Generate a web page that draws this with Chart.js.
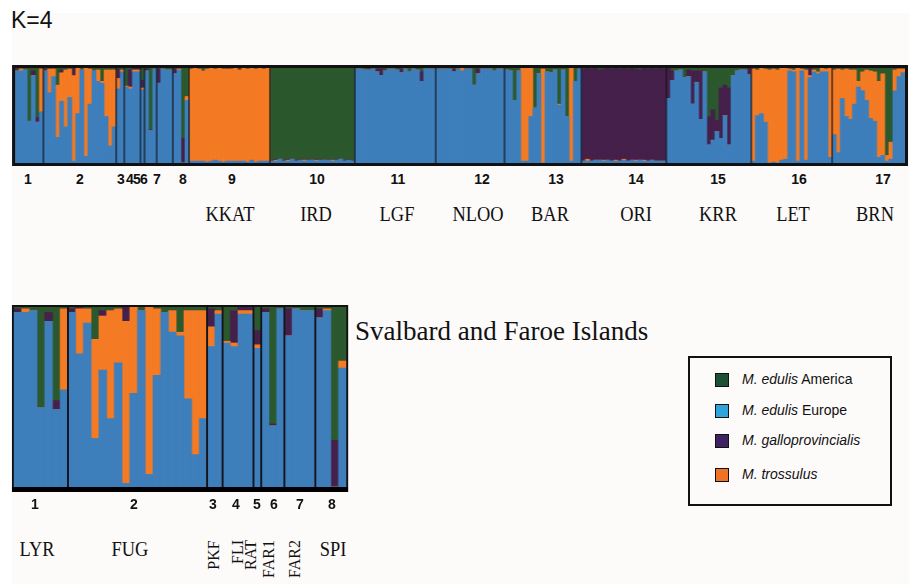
<!DOCTYPE html>
<html>
<head>
<meta charset="utf-8"/>
<script src="https://cdn.jsdelivr.net/npm/chart.js@4/dist/chart.umd.min.js"></script>
<style>
  body { margin: 0; width: 909px; height: 584px; position: relative; overflow: hidden; background: #fff;
         font-family: "Liberation Sans", Arial, sans-serif; }
  #bg { position: absolute; left: 12px; top: 13px; width: 897px; height: 571px; background: #fdfafa; }
  canvas { position: absolute; }
  .t { position: absolute; white-space: nowrap; color: #111; }
  .num { font-weight: bold; font-size: 14px; transform: translate(-50%, -50%); }
  .name { font-family: "Liberation Serif", "Times New Roman", serif; font-size: 20px; transform: translate(-50%, -50%) scaleX(0.92); }
  .rot { font-family: "Liberation Serif", "Times New Roman", serif; font-size: 16px; transform: translate(-50%, -50%) rotate(-90deg); }
  #legend { position: absolute; left: 688px; top: 356px; width: 204px; height: 150px; border: 2px solid #111; box-sizing: border-box; }
  .sw { position: absolute; left: 25px; width: 12px; height: 12px; border: 1.5px solid #111; }
  .lt { position: absolute; font-size: 14px; color: #111; }
</style>
</head>
<body>
<div id="bg"></div>
<div class="t" style="left:11px; top:7px; font-size:23px;">K=4</div>
<!-- canvases are drawn with whole-pixel bar widths, then stretched slightly by CSS -->
<canvas id="top" width="890" height="107" style="left:9px; top:62px; width:900px; height:107px;"></canvas>
<canvas id="bottom" width="357" height="200" style="left:8px; top:300px; width:345px; height:200px;"></canvas>
<div class="t" style="left:355px; top:316px; font-family:'Liberation Serif',serif; font-size:27px;">Svalbard and Faroe Islands</div>
<div id="legend"></div>
<div id="labels"></div>
<script>
// component order: M. edulis America (green), M. galloprovincialis (purple), M. trossulus (orange), M. edulis Europe (blue)

// Svalbard and Faroe Islands, populations 1-8 (43 individuals, %)
var svGreen  = [1,1,2,56,3,52,1,
                1,0,1,18,2,2,1,0,0,2,0,1,3,2,14,2,2,2,
                1,2, 19,2,0,0, 13, 1,65,1, 1,1,2,2, 1,1,74,30];
var svPurple = [2,0,0,0,5,5,0,
                2,1,0,0,3,0,0,8,0,0,0,0,0,0,0,0,0,0,
                10,0, 0,18,2,2, 8, 2,1,0, 15,0,0,0, 5,0,26,0];
var svOrange = [0,2,0,0,0,0,45,
                0,25,8,55,30,60,30,90,48,0,93,37,0,12,2,49,80,60,
                11,2, 1,2,2,2, 2, 0,0,0, 0,0,0,0, 0,1,0,4];
var svBlue   = [97,97,98,44,92,43,54,
                97,74,91,27,65,38,69,2,52,98,7,62,97,86,84,49,18,38,
                78,96, 80,78,96,96, 77, 97,34,99, 84,99,98,98, 94,98,0,66];

// populations 9-17 (177 individuals, %)
var mlGreen = [
  1,0,1,3,1,0,1,0,1,0,1,0,1,0,1,0,1,0,1,0,
  97,96,96,97,96,96,97,96,97,96,97,96,96,97,96,97,96,96,97,96,97,
  1,1,2,1,1,1,1,2,1,1,1,1,1,4,1,1,4,1,1,1,
  1,1,1,1,1,1,0,1,1,18,1,1,1,1,3,1,1,
  2,3,34,3,0,0,0,42,6,1,4,5,2,38,2,51,0,14,1,
  1,0,1,0,2,1,0,1,0,1,0,1,0,1,2,0,1,0,1,0,1,
  0,3,3,2,10,2,3,3,3,4,51,44,55,21,18,21,8,3,2,2,0,
  1,2,0,1,2,1,2,0,0,1,2,0,1,2,0,2,4,0,1,0,
  2,1,2,1,2,2,14,4,2,3,4,14,6,92,78,2,1,1];
var mlPurple = [
  0,0,0,0,0,0,0,0,0,1,0,0,1,0,0,0,0,0,0,0,
  1,1,0,1,1,0,1,1,0,1,0,1,1,0,1,0,1,0,1,1,1,
  0,0,0,1,0,3,7,1,0,0,1,4,0,0,0,1,10,0,0,0,
  0,0,0,0,3,0,0,0,0,0,5,0,0,0,0,0,0,
  0,0,0,0,0,0,0,0,0,0,0,0,0,0,0,0,0,0,0,
  97,96,97,97,95,96,97,97,97,97,96,97,97,96,95,97,97,97,97,98,97,
  32,10,0,0,0,7,35,12,51,0,30,32,12,53,32,60,0,0,0,0,7,
  0,0,0,0,0,0,0,0,0,0,0,0,0,0,8,0,0,0,0,0,
  0,0,0,0,0,0,0,0,0,0,0,0,0,0,0,0,0,0];
var mlOrange = [
  97,98,97,95,98,98,96,98,98,97,97,98,96,98,98,97,98,98,97,98,
  0,1,0,0,1,0,0,0,1,0,0,1,0,0,0,1,0,0,0,0,0,
  0,0,0,0,0,0,0,0,0,0,0,0,0,0,0,0,0,0,0,0,
  0,0,0,0,0,0,3,0,0,0,0,0,0,0,0,0,0,
  0,0,0,0,98,98,51,0,0,99,0,0,0,1,0,0,98,0,0,
  0,2,0,0,0,1,0,0,1,0,1,0,0,1,0,1,0,0,0,0,0,
  0,0,0,0,0,0,0,0,0,0,0,0,0,0,0,0,0,0,0,0,0,
  97,48,48,56,98,98,98,97,96,2,2,98,2,95,2,2,2,4,3,94,
  68,88,30,50,52,36,6,20,32,50,52,80,86,6,18,22,8,4];
var mlBlue = [
  2,2,2,2,1,2,3,2,1,2,2,2,2,2,1,3,1,2,2,2,
  2,2,4,2,2,4,2,3,2,3,3,2,3,3,3,2,3,4,2,3,2,
  99,99,98,98,99,96,92,97,99,99,98,95,99,96,99,98,86,99,99,99,
  99,99,99,99,96,99,97,99,99,82,94,99,99,99,97,99,99,
  98,97,66,97,2,2,49,58,94,0,96,95,98,61,98,49,2,86,99,
  2,2,2,3,3,2,3,2,2,2,3,2,3,2,3,2,2,3,2,2,2,
  68,87,97,98,90,91,62,85,46,96,19,24,33,26,50,19,92,97,98,98,93,
  2,50,52,43,0,1,0,3,4,97,96,2,97,3,90,96,94,96,96,6,
  30,11,68,49,46,62,80,76,66,47,44,6,8,2,4,76,91,95];

var svSizes = [7, 18, 2, 4, 1, 3, 4, 4];
var mlSizes = [20, 21, 20, 17, 19, 21, 21, 20, 18];
var topNumbers = ['1','2','3','4','5','6','7','8','9','10','11','12','13','14','15','16','17'];
var topNames = ['KKAT','IRD','LGF','NLOO','BAR','ORI','KRR','LET','BRN'];
var svNumbers = ['1','2','3','4','5','6','7','8'];
var svNames = ['LYR','FUG','PKF','FLI','RAT','FAR1','FAR2','SPI'];

var legendItems = [
  { it: 'M. edulis', rest: ' America', color: '#1b5236' },
  { it: 'M. edulis', rest: ' Europe', color: '#2ea3dc' },
  { it: 'M. galloprovincialis', rest: '', color: '#3e2262' },
  { it: 'M. trossulus', rest: '', color: '#f07226' }
];

var colors = { green: '#2b592d', purple: '#45204a', orange: '#f47a24', blue: '#3d7ebb' };

var framePlugin = {
  id: 'frame',
  afterDatasetsDraw: function(chart, args, opts) {
    var ctx = chart.ctx, a = chart.chartArea, x = chart.scales.x;
    ctx.save();
    ctx.strokeStyle = '#15151f';
    ctx.lineWidth = opts.sep;
    var n = 0;
    for (var i = 0; i < opts.sizes.length - 1; i++) {
      n += opts.sizes[i];
      var px = (x.getPixelForValue(n - 1) + x.getPixelForValue(n)) / 2;
      ctx.beginPath(); ctx.moveTo(px, a.top); ctx.lineTo(px, a.bottom); ctx.stroke();
    }
    ctx.strokeStyle = '#111';
    ctx.lineWidth = opts.border;
    var b = opts.border / 2;
    ctx.strokeRect(a.left - b, a.top - b, a.right - a.left + 2 * b, a.bottom - a.top + 2 * b);
    if (opts.base) {
      ctx.fillStyle = '#000';
      ctx.fillRect(a.left - opts.border, a.bottom, a.right - a.left + 2 * opts.border, opts.base);
    }
    ctx.restore();
  }
};

function structurePlot(id, green, purple, orange, blue, sizes, pad, frame) {
  var labels = blue.map(function(v, i) { return i + 1; });
  var ds = function(data, c) {
    return { data: data, backgroundColor: c, borderWidth: 0, barPercentage: 1, categoryPercentage: 1 };
  };
  new Chart(document.getElementById(id), {
    type: 'bar',
    data: {
      labels: labels,
      datasets: [ds(blue, colors.blue), ds(orange, colors.orange), ds(purple, colors.purple), ds(green, colors.green)]
    },
    options: {
      responsive: false,
      animation: false,
      devicePixelRatio: 1,
      layout: { padding: pad },
      scales: {
        x: { stacked: true, display: false },
        y: { stacked: true, display: false, min: 0, max: 100 }
      },
      plugins: {
        legend: { display: false },
        tooltip: { enabled: false },
        frame: { sizes: sizes, sep: frame.sep, border: frame.border, base: frame.base }
      }
    },
    plugins: [framePlugin]
  });
}

// top: 220 bars x 4 px = 880 px plot area; bottom: 43 bars x 8 px = 344 px plot area
structurePlot('top', svGreen.concat(mlGreen), svPurple.concat(mlPurple), svOrange.concat(mlOrange),
  svBlue.concat(mlBlue), svSizes.concat(mlSizes),
  { left: 6, right: 4, top: 6, bottom: 6 }, { sep: 1.2, border: 3, base: 0 });
structurePlot('bottom', svGreen, svPurple, svOrange, svBlue, svSizes,
  { left: 6, right: 7, top: 7, bottom: 13 }, { sep: 2, border: 2, base: 5 });

// text labels
var box = document.getElementById('labels');
function addText(cls, txt, x, y) {
  var d = document.createElement('div');
  d.className = 't ' + cls;
  d.textContent = txt;
  d.style.left = x + 'px';
  d.style.top = y + 'px';
  box.appendChild(d);
  return d;
}
var topNumX = [28, 80, 121, 130, 137, 144, 157, 183, 232, 317, 398, 482, 556, 636, 718, 799, 883];
topNumbers.forEach(function(t, i) { addText('num', t, topNumX[i], 179); });
var topNameX = [230, 316, 397, 478, 550, 636, 718, 793, 875];
topNames.forEach(function(t, i) { addText('name', t, topNameX[i], 214); });
var svNumX = [35, 134, 213, 236, 257, 274, 300, 332];
svNumbers.forEach(function(t, i) { addText('num', t, svNumX[i], 504); });
var svNameX = [37, 130, 214, 238, 251, 269, 295, 333];
svNames.forEach(function(t, i) {
  var rotated = i >= 2 && i <= 6;
  var d = addText(rotated ? 'rot' : 'name', t, svNameX[i], 549);
  if (rotated) d.style.top = (540 + d.offsetWidth / 2) + 'px';
});

var lg = document.getElementById('legend');
var rowY = [22, 53, 83, 117];
legendItems.forEach(function(item, i) {
  var s = document.createElement('div');
  s.className = 'sw';
  s.style.top = (rowY[i] - 7) + 'px';
  s.style.background = item.color;
  lg.appendChild(s);
  var t = document.createElement('div');
  t.className = 'lt';
  t.style.left = '52px';
  t.style.top = (rowY[i] - 9) + 'px';
  t.innerHTML = '<i>' + item.it + '</i>' + item.rest;
  lg.appendChild(t);
});
</script>
</body>
</html>
